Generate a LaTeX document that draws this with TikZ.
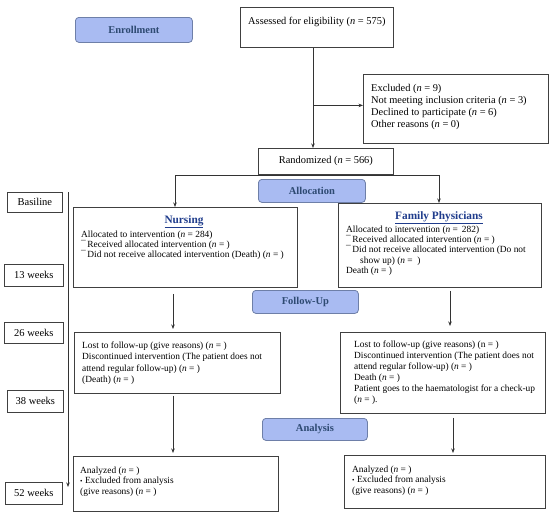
\documentclass[tikz,border=0pt]{standalone}
\usepackage{fontspec}
\setmainfont{Liberation Serif}
\usetikzlibrary{arrows.meta}
\definecolor{phasefill}{HTML}{A9BBF2}
\definecolor{phasedraw}{HTML}{6E7FA8}
\definecolor{phasetext}{HTML}{2E4A72}
\definecolor{titleblue}{HTML}{1F3C8C}
\begin{document}
\begin{tikzpicture}[x=1pt,y=-1pt,
  box/.style={draw=black!75, line width=0.8pt, anchor=north west, inner sep=0pt},
  weekbox/.style={box, font=\fontsize{10.5}{12}\selectfont},
  phasebox/.style={draw=phasedraw, fill=phasefill, rounded corners=3.5pt, line width=0.8pt,
    anchor=north west, inner sep=0pt, font=\fontsize{10.5}{12}\selectfont\bfseries, text=phasetext},
  txt/.style={anchor=north west, inner sep=0pt, align=left, font=\fontsize{9.4}{10}\selectfont},
  big/.style={font=\fontsize{10.4}{12}\selectfont},
  ttl/.style={anchor=base, inner sep=0pt, font=\fontsize{11.3}{13}\selectfont\bfseries, text=titleblue},
  arr/.style={-{Stealth[length=4.5pt,width=3.5pt]}, line width=0.7pt, draw=black!80},
  ln/.style={line width=0.7pt, draw=black!80}]
\useasboundingbox (0,0) rectangle (550,514);

% phase boxes
\node[phasebox, minimum width=117, minimum height=25] (enr) at (75,17) {Enrollment};
\node[phasebox, minimum width=107, minimum height=23] (alloc) at (258,179) {Allocation};
\node[phasebox, minimum width=106, minimum height=23] (fup) at (252,290) {Follow-Up};
\node[phasebox, minimum width=105, minimum height=22] (ana) at (262,418) {Analysis};

% week boxes
\node[weekbox, minimum width=55, minimum height=20] (w0) at (7,192) {Basiline};
\node[weekbox, minimum width=59, minimum height=22] (w13) at (4,264) {13 weeks};
\node[weekbox, minimum width=59, minimum height=21] (w26) at (4,322) {26 weeks};
\node[weekbox, minimum width=56, minimum height=22] (w38) at (7,390) {38 weeks};
\node[weekbox, minimum width=57, minimum height=22] (w52) at (5,482) {52 weeks};
\coordinate (tl0) at (68,192);
\coordinate (tl1) at (68,487);
\draw[arr] (tl0) -- (tl1);

% enrollment
\node[box, minimum width=153, minimum height=40] (asse) at (240,7) {};
\node[txt, big] (asset) at (248,17) {Assessed for eligibility (\textit{n} = 575)};
\node[box, minimum width=185, minimum height=69] (excl) at (363,74) {};
\node[txt, big] (exclt) at (371,84)
  {Excluded (\textit{n} = 9)\\Not meeting inclusion criteria (\textit{n} = 3)\\Declined to participate (\textit{n} = 6)\\Other reasons (\textit{n} = 0)};
\node[box, big, minimum width=135, minimum height=26] (rand) at (258,148) {Randomized (\textit{n} = 566)};

\coordinate (vx) at (313,0);
\draw[arr] (asse.south -| vx) -- (rand.north -| vx);
\draw[arr] ([yshift=3.5pt]excl.west -| vx) -- ([yshift=3.5pt]excl.west);

% allocation
\node[box, minimum width=224, minimum height=80] (nur) at (73,207) {};
\node[ttl] (nurt) at (184,223.3) {\underline{Nursing}};
\node[txt, font=\fontsize{9.4}{10.2}\selectfont] (nurtx) at (81,230.5)
  {Allocated to intervention (\textit{n} = 284)\\
   ¯\,Received allocated intervention (\textit{n} = )\\
   ¯\,Did not receive allocated intervention (Death) (\textit{n} = )};

\node[box, minimum width=203, minimum height=84] (fam) at (338,203) {};
\node[ttl] (famt) at (439,219) {\underline{Family Physicians}};
\node[txt, font=\fontsize{9.4}{10.3}\selectfont] (famtx) at (346,225.6)
  {Allocated to intervention (\textit{n} =\, 282)\\
   ¯\,Received allocated intervention (\textit{n} = )\\
   ¯\,Did not receive allocated intervention (Do not\\
   \hspace*{14pt}show up) (\textit{n} = \ )\\
   Death (\textit{n} = )};

\coordinate (split) at (313,175);
\coordinate (nx) at (175,0);
\coordinate (fx) at (439,0);
\draw[ln] (rand.south -| split) -- (split);
\draw[arr] (split) -| (nur.north -| nx);
\draw[arr] (split) -| (fam.north -| fx);

% follow-up
\node[box, minimum width=206, minimum height=61] (nfu) at (74,332) {};
\node[txt, font=\fontsize{9.4}{11.3}\selectfont] (nfut) at (82,341.6)
  {Lost to follow-up (give reasons) (\textit{n} = )\\
   Discontinued intervention (The patient does not\\
   attend regular follow-up) (\textit{n} = )\\
   (Death) (\textit{n} = )};

\node[box, minimum width=205, minimum height=81] (ffu) at (340,332) {};
\node[txt, font=\fontsize{9.4}{11}\selectfont] (ffut) at (354,340.6)
  {Lost to follow-up (give reasons) (n = )\\
   Discontinued intervention (The patient does not\\
   attend regular follow-up) (\textit{n} = )\\
   Death (\textit{n} = )\\
   Patient goes to the haematologist for a check-up\\
   (\textit{n} = ).};

\coordinate (nx2) at (173,0);
\coordinate (fx2) at (450,0);
\draw[arr, shorten <=6pt, shorten >=3pt] (nur.south -| nx2) -- (nfu.north -| nx2);
\draw[arr, shorten <=3pt, shorten >=6pt] (fam.south -| fx2) -- (ffu.north -| fx2);

% analysis
\node[box, minimum width=205, minimum height=55] (nan) at (73,456) {};
\node[txt, font=\fontsize{9.4}{10.5}\selectfont] (nant) at (80,466.6)
  {Analyzed (\textit{n} = )\\
   {\scriptsize •} Excluded from analysis\\
   (give reasons) (\textit{n} = )};
\node[box, minimum width=201, minimum height=53] (fan) at (344,455) {};
\node[txt, font=\fontsize{9.4}{10.5}\selectfont] (fant) at (352,465.6)
  {Analyzed (\textit{n} = )\\
   {\scriptsize •} Excluded from analysis\\
   (give reasons) (\textit{n} = )};

\coordinate (fx3) at (453,0);
\draw[arr, shorten <=2pt, shorten >=3pt] (nfu.south -| nx2) -- (nan.north -| nx2);
\draw[arr, shorten <=4pt, shorten >=2pt] (ffu.south -| fx3) -- (fan.north -| fx3);
\end{tikzpicture}
\end{document}
